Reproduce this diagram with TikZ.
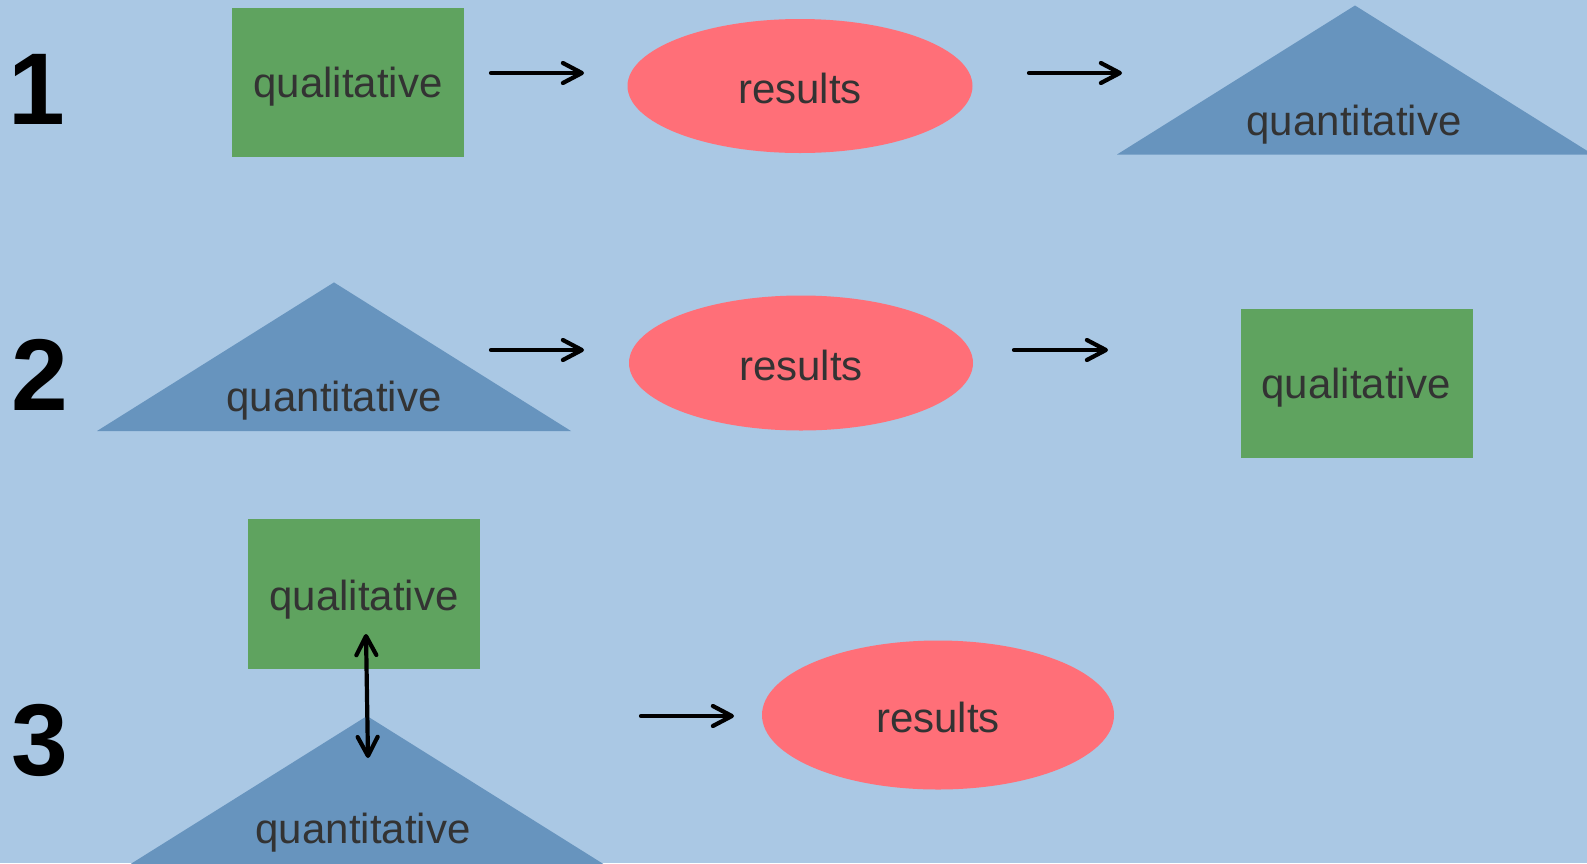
\documentclass[tikz,border=0pt]{standalone}
\usepackage{fontspec}
\setmainfont{Liberation Sans}
\usetikzlibrary{arrows.meta,shapes.geometric}
\definecolor{bgblue}{HTML}{AAC8E4}
\definecolor{boxgreen}{HTML}{5FA35F}
\definecolor{triblue}{HTML}{6794BE}
\definecolor{ellred}{HTML}{FF6F78}
\definecolor{txt}{HTML}{333333}
\begin{document}
\begin{tikzpicture}[x=1pt,y=-1pt,
  lbl/.style={font=\fontsize{42}{50}\selectfont, text=txt, anchor=base, inner sep=0pt},
  qualbox/.style={rectangle, fill=boxgreen, minimum width=232pt, minimum height=149pt, inner sep=0pt},
  resell/.style={ellipse, fill=ellred, inner sep=0pt},
  trishape/.style={fill=triblue},
  num/.style={font=\fontsize{102}{110}\selectfont\bfseries, anchor=base, inner sep=0pt, text=black},
  conn/.style={line width=4.2pt, line cap=round, -{Straight Barb[length=19pt,width=20pt,round]}},
  dconn/.style={line width=4.2pt, line cap=round, {Straight Barb[length=19pt,width=20pt,round]}-{Straight Barb[length=19pt,width=20pt,round]}}
]
\useasboundingbox (0,0) rectangle (1587,863);
\clip (0,0) rectangle (1587,863);
\fill[bgblue] (0,0) rectangle (1587,863);

% numbers
\node[num] (n1) at (37,124) {1};
\node[num] (n2) at (39.5,410) {2};
\node[num] (n3) at (39.5,775) {3};

% row 1
\node[qualbox] (q1) at (348,82) {};
\node[lbl] (q1t) at (348,97) {qualitative};
\node[resell, minimum width=345pt, minimum height=134pt] (r1) at (800,86) {};
\node[lbl] (r1t) at (800,103) {results};
\fill[trishape] (1355,5.5) -- (1117,154.5) -- (1593,154.5) -- cycle;
\node[lbl] (t1t) at (1354,135) {quantitative};
\coordinate (a1s) at (491,73); \coordinate (a1e) at (584,73);
\coordinate (a2s) at (1029,73); \coordinate (a2e) at (1122,73);
\draw[conn] (a1s) -- (a1e);
\draw[conn] (a2s) -- (a2e);

% row 2
\fill[trishape] (334,282.4) -- (97,431) -- (571,431) -- cycle;
\node[lbl] (t2t) at (334,411) {quantitative};
\node[resell, minimum width=344pt, minimum height=135pt] (r2) at (801,363) {};
\node[lbl] (r2t) at (801,380) {results};
\node[qualbox] (q2) at (1357,383.5) {};
\node[lbl] (q2t) at (1356,398) {qualitative};
\coordinate (a3s) at (491,350); \coordinate (a3e) at (584,350);
\coordinate (a4s) at (1014,350); \coordinate (a4e) at (1108,350);
\draw[conn] (a3s) -- (a3e);
\draw[conn] (a4s) -- (a4e);

% row 3
\node[qualbox, minimum height=150pt] (q3) at (364,594) {};
\node[lbl] (q3t) at (364,610) {qualitative};
\fill[trishape] (367,716) -- (129,865) -- (605,865) -- cycle;
\node[lbl] (t3t) at (363,843) {quantitative};
\node[resell, minimum width=352pt, minimum height=149pt] (r3) at (938,715) {};
\node[lbl] (r3t) at (938,732) {results};
\coordinate (a5s) at (641,716); \coordinate (a5e) at (734,716);
\draw[conn] (a5s) -- (a5e);
\coordinate (d1) at (366,634); \coordinate (d2) at (368,758);
\draw[dconn] (d1) -- (d2);
\end{tikzpicture}
\end{document}
